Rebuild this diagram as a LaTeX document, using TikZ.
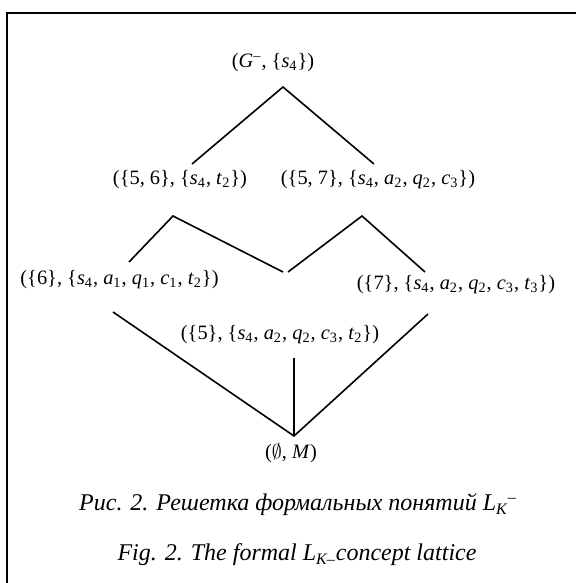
\documentclass[tikz,border=0pt]{standalone}
\usepackage{fontspec}
\setmainfont{Liberation Serif}
\newcommand{\iv}[2]{\textit{#1}\textsubscript{#2}}
\begin{document}
\begin{tikzpicture}[x=0.5pt,y=-0.5pt,line width=0.8pt,
    lbl/.style={inner sep=0pt,font=\fontsize{10.2}{12}\selectfont},
    caption/.style={inner sep=0pt,font=\fontsize{12}{14}\selectfont\itshape}]
  \useasboundingbox (0,0) rectangle (576,583);
  \draw[line width=1pt] (7,583) -- (7,13) -- (576,13); %
  % concepts
  \node[lbl] (top) at (273,63) {(\textit{G}\textsuperscript{–}, \{\iv{s}{4}\})}; %
  \node[lbl] (c56) at (180,180) {(\{5, 6\}, \{\iv{s}{4}, \iv{t}{2}\})}; %
  \node[lbl] (c57) at (378,180) {(\{5, 7\}, \{\iv{s}{4}, \iv{a}{2}, \iv{q}{2}, \iv{c}{3}\})}; %
  \node[lbl] (c6) at (119.5,280) {(\{6\}, \{\iv{s}{4}, \iv{a}{1}, \iv{q}{1}, \iv{c}{1}, \iv{t}{2}\})}; %
  \node[lbl] (c7) at (456,285) {(\{7\}, \{\iv{s}{4}, \iv{a}{2}, \iv{q}{2}, \iv{c}{3}, \iv{t}{3}\})}; %
  \node[lbl] (c5) at (280,335) {(\{5\}, \{\iv{s}{4}, \iv{a}{2}, \iv{q}{2}, \iv{c}{3}, \iv{t}{2}\})}; %
  \node[lbl] (bot) at (291,453) {($\emptyset$, \textit{M})}; %
  % line ends
  \coordinate (A) at (283,87); %
  \coordinate (B) at (192,164); %
  \coordinate (C) at (374,164); %
  \coordinate (D) at (173,216); %
  \coordinate (E) at (129,262); %
  \coordinate (F) at (283,272); %
  \coordinate (G) at (288,272); %
  \coordinate (H) at (362,216); %
  \coordinate (I) at (425,272); %
  \coordinate (J) at (113,312); %
  \coordinate (K) at (428,314); %
  \coordinate (L) at (294,358); %
  \coordinate (O) at (294,436); %
  \draw (B) -- (A) -- (C); %
  \draw (E) -- (D) -- (F); %
  \draw (G) -- (H) -- (I); %
  \draw (J) -- (O) -- (K); %
  \draw (L) -- (O); %
  % captions
  \node[caption] (rus) at (298,505) {Рис. 2. Решетка формальных понятий \textit{L}\textsubscript{\textit{K}}\textsuperscript{–}}; %
  \node[caption] (eng) at (297,555) {Fig. 2. The formal \textit{L}\textsubscript{\textit{K}–}concept lattice}; %
\end{tikzpicture}
\end{document}
